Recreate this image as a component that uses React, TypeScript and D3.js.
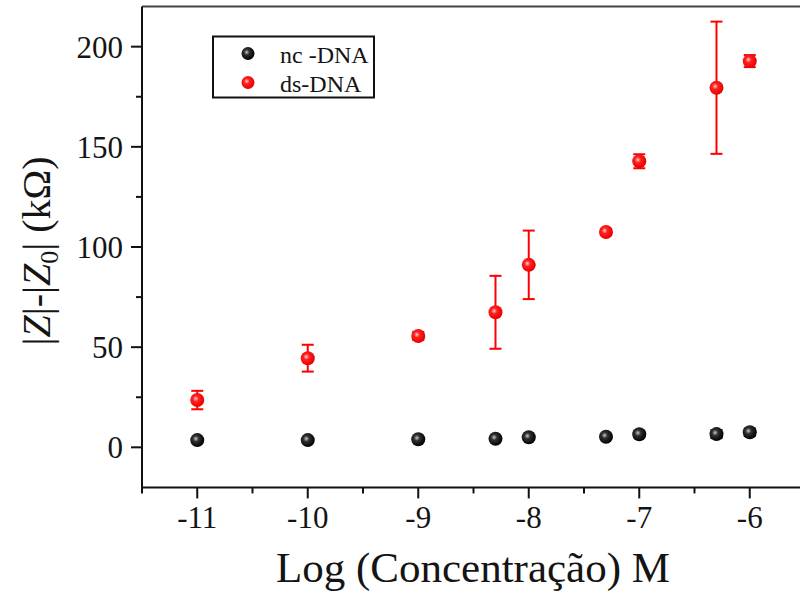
import React from "react";
import * as d3 from "d3";

const concentrations = [-11, -10, -9, -8.301, -8, -7.301, -7, -6.301, -6];
const ncValues = [3.6, 3.6, 4.0, 4.3, 5.0, 5.3, 6.5, 6.6, 7.5];
const ncErrors = [0.5, 0.5, 0.6, 0.8, 0.8, 1.2, 1.5, 2.0, 1.8];
const dsValues = [23.6, 44.5, 55.6, 67.4, 91.1, 107.5, 142.8, 179.5, 192.8];
const dsErrors = [4.6, 6.7, 2.0, 18.2, 17.1, 1.5, 3.5, 33.0, 3.0];
const xMajorTicks = [-11, -10, -9, -8, -7, -6];
const xMinorTicks = [-11.5, -10.5, -9.5, -8.5, -7.5, -6.5, -5.5];
const yMajorTicks = [0, 50, 100, 150, 200];
const yMinorTicks = [25, 75, 125, 175];
const seriesNames = ["nc -DNA", "ds-DNA"];

const W = 800;
const H = 597;
const left = 142;
const right = 805;
const top = 6.6;
const bottom = 487.4;
const FONT = "Times New Roman, Liberation Serif, Tinos, Times, serif";
const TEXT = "#141414";

export default function App() {
  const x = d3.scaleLinear().domain([-11.5, -5.5]).range([left, right]);
  const y = d3.scaleLinear().domain([-20, 220]).range([bottom, top]);

  const series = [
    { name: seriesNames[0], values: ncValues, errors: ncErrors, color: "#000000", grad: "gBlack" },
    { name: seriesNames[1], values: dsValues, errors: dsErrors, color: "#ff0000", grad: "gRed" },
  ];

  const tStyle = { fontFamily: FONT };

  return (
    <svg width={W} height={H} style={{ position: "absolute", left: 0, top: 0, background: "#fff" }}>
      <defs>
        <radialGradient id="gBlack" cx="0.4" cy="0.4" r="0.6">
          <stop offset="0" stopColor="#c8c8c8" />
          <stop offset="0.35" stopColor="#303030" />
          <stop offset="1" stopColor="#000000" />
        </radialGradient>
        <radialGradient id="gRed" cx="0.4" cy="0.4" r="0.6">
          <stop offset="0" stopColor="#ffd0d0" />
          <stop offset="0.35" stopColor="#ff2020" />
          <stop offset="1" stopColor="#e80000" />
        </radialGradient>
      </defs>
      <rect x={0} y={0} width={W} height={H} fill="#fff" />

      {/* frame */}
      <line x1={left} x2={W} y1={top} y2={top} stroke="#444" strokeWidth={2} />
      <line x1={left} x2={left} y1={top} y2={bottom} stroke="#111" strokeWidth={2} />
      <line x1={left - 1} x2={W} y1={bottom} y2={bottom} stroke="#111" strokeWidth={2} />

      {/* y ticks */}
      {yMajorTicks.map((t) => (
        <g key={"ym" + t}>
          <line x1={left - 11} x2={left} y1={y(t)} y2={y(t)} stroke="#111" strokeWidth={2} />
          <text x={left - 19} y={y(t)} dy="0.35em" textAnchor="end" style={tStyle} fontSize={31} fill={TEXT}>
            {t}
          </text>
        </g>
      ))}
      {yMinorTicks.map((t) => (
        <line key={"yn" + t} x1={left - 6} x2={left} y1={y(t)} y2={y(t)} stroke="#111" strokeWidth={2} />
      ))}

      {/* x ticks */}
      {xMajorTicks.map((t) => (
        <g key={"xm" + t}>
          <line x1={x(t)} x2={x(t)} y1={bottom} y2={bottom + 11} stroke="#111" strokeWidth={2} />
          <text x={x(t)} y={528} textAnchor="middle" style={tStyle} fontSize={31} fill={TEXT}>
            {t}
          </text>
        </g>
      ))}
      {xMinorTicks.map((t) => (
        <line key={"xn" + t} x1={x(t)} x2={x(t)} y1={bottom} y2={bottom + 6} stroke="#111" strokeWidth={2} />
      ))}

      {/* axis titles */}
      <text x={473} y={582} textAnchor="middle" style={tStyle} fontSize={43} fill={TEXT}>
        Log (Concentração) M
      </text>
      <text
        transform={`translate(50, 251) rotate(-90)`}
        textAnchor="middle"
        style={tStyle}
        fontSize={40}
        fill={TEXT}
      >
        <tspan>|</tspan>
        <tspan fontStyle="italic">Z</tspan>
        <tspan>|-|</tspan>
        <tspan fontStyle="italic">Z</tspan>
        <tspan fontSize={26} dy={8}>0</tspan>
        <tspan dy={-8}>| (kΩ)</tspan>
      </text>

      {/* data */}
      {series.map((s) => (
        <g key={s.name}>
          {concentrations.map((c, i) => {
            const cx = x(c);
            const y1 = y(s.values[i] + s.errors[i]);
            const y2 = y(s.values[i] - s.errors[i]);
            return (
              <g key={i}>
                <line x1={cx} x2={cx} y1={y1} y2={y2} stroke={s.color} strokeWidth={2} />
                <line x1={cx - 6} x2={cx + 6} y1={y1} y2={y1} stroke={s.color} strokeWidth={2} />
                <line x1={cx - 6} x2={cx + 6} y1={y2} y2={y2} stroke={s.color} strokeWidth={2} />
                <circle cx={cx} cy={y(s.values[i])} r={7} fill={`url(#${s.grad})`} />
              </g>
            );
          })}
        </g>
      ))}

      {/* legend */}
      <rect x={213} y={36.5} width={161} height={61} fill="#fff" stroke="#111" strokeWidth={2} />
      {series.map((s, i) => (
        <g key={"lg" + i}>
          <circle cx={248} cy={53.5 + i * 29} r={6.5} fill={`url(#${s.grad})`} />
          <text x={280} y={63 + i * 29} style={tStyle} fontSize={24} fill={TEXT}>
            {s.name}
          </text>
        </g>
      ))}
    </svg>
  );
}
